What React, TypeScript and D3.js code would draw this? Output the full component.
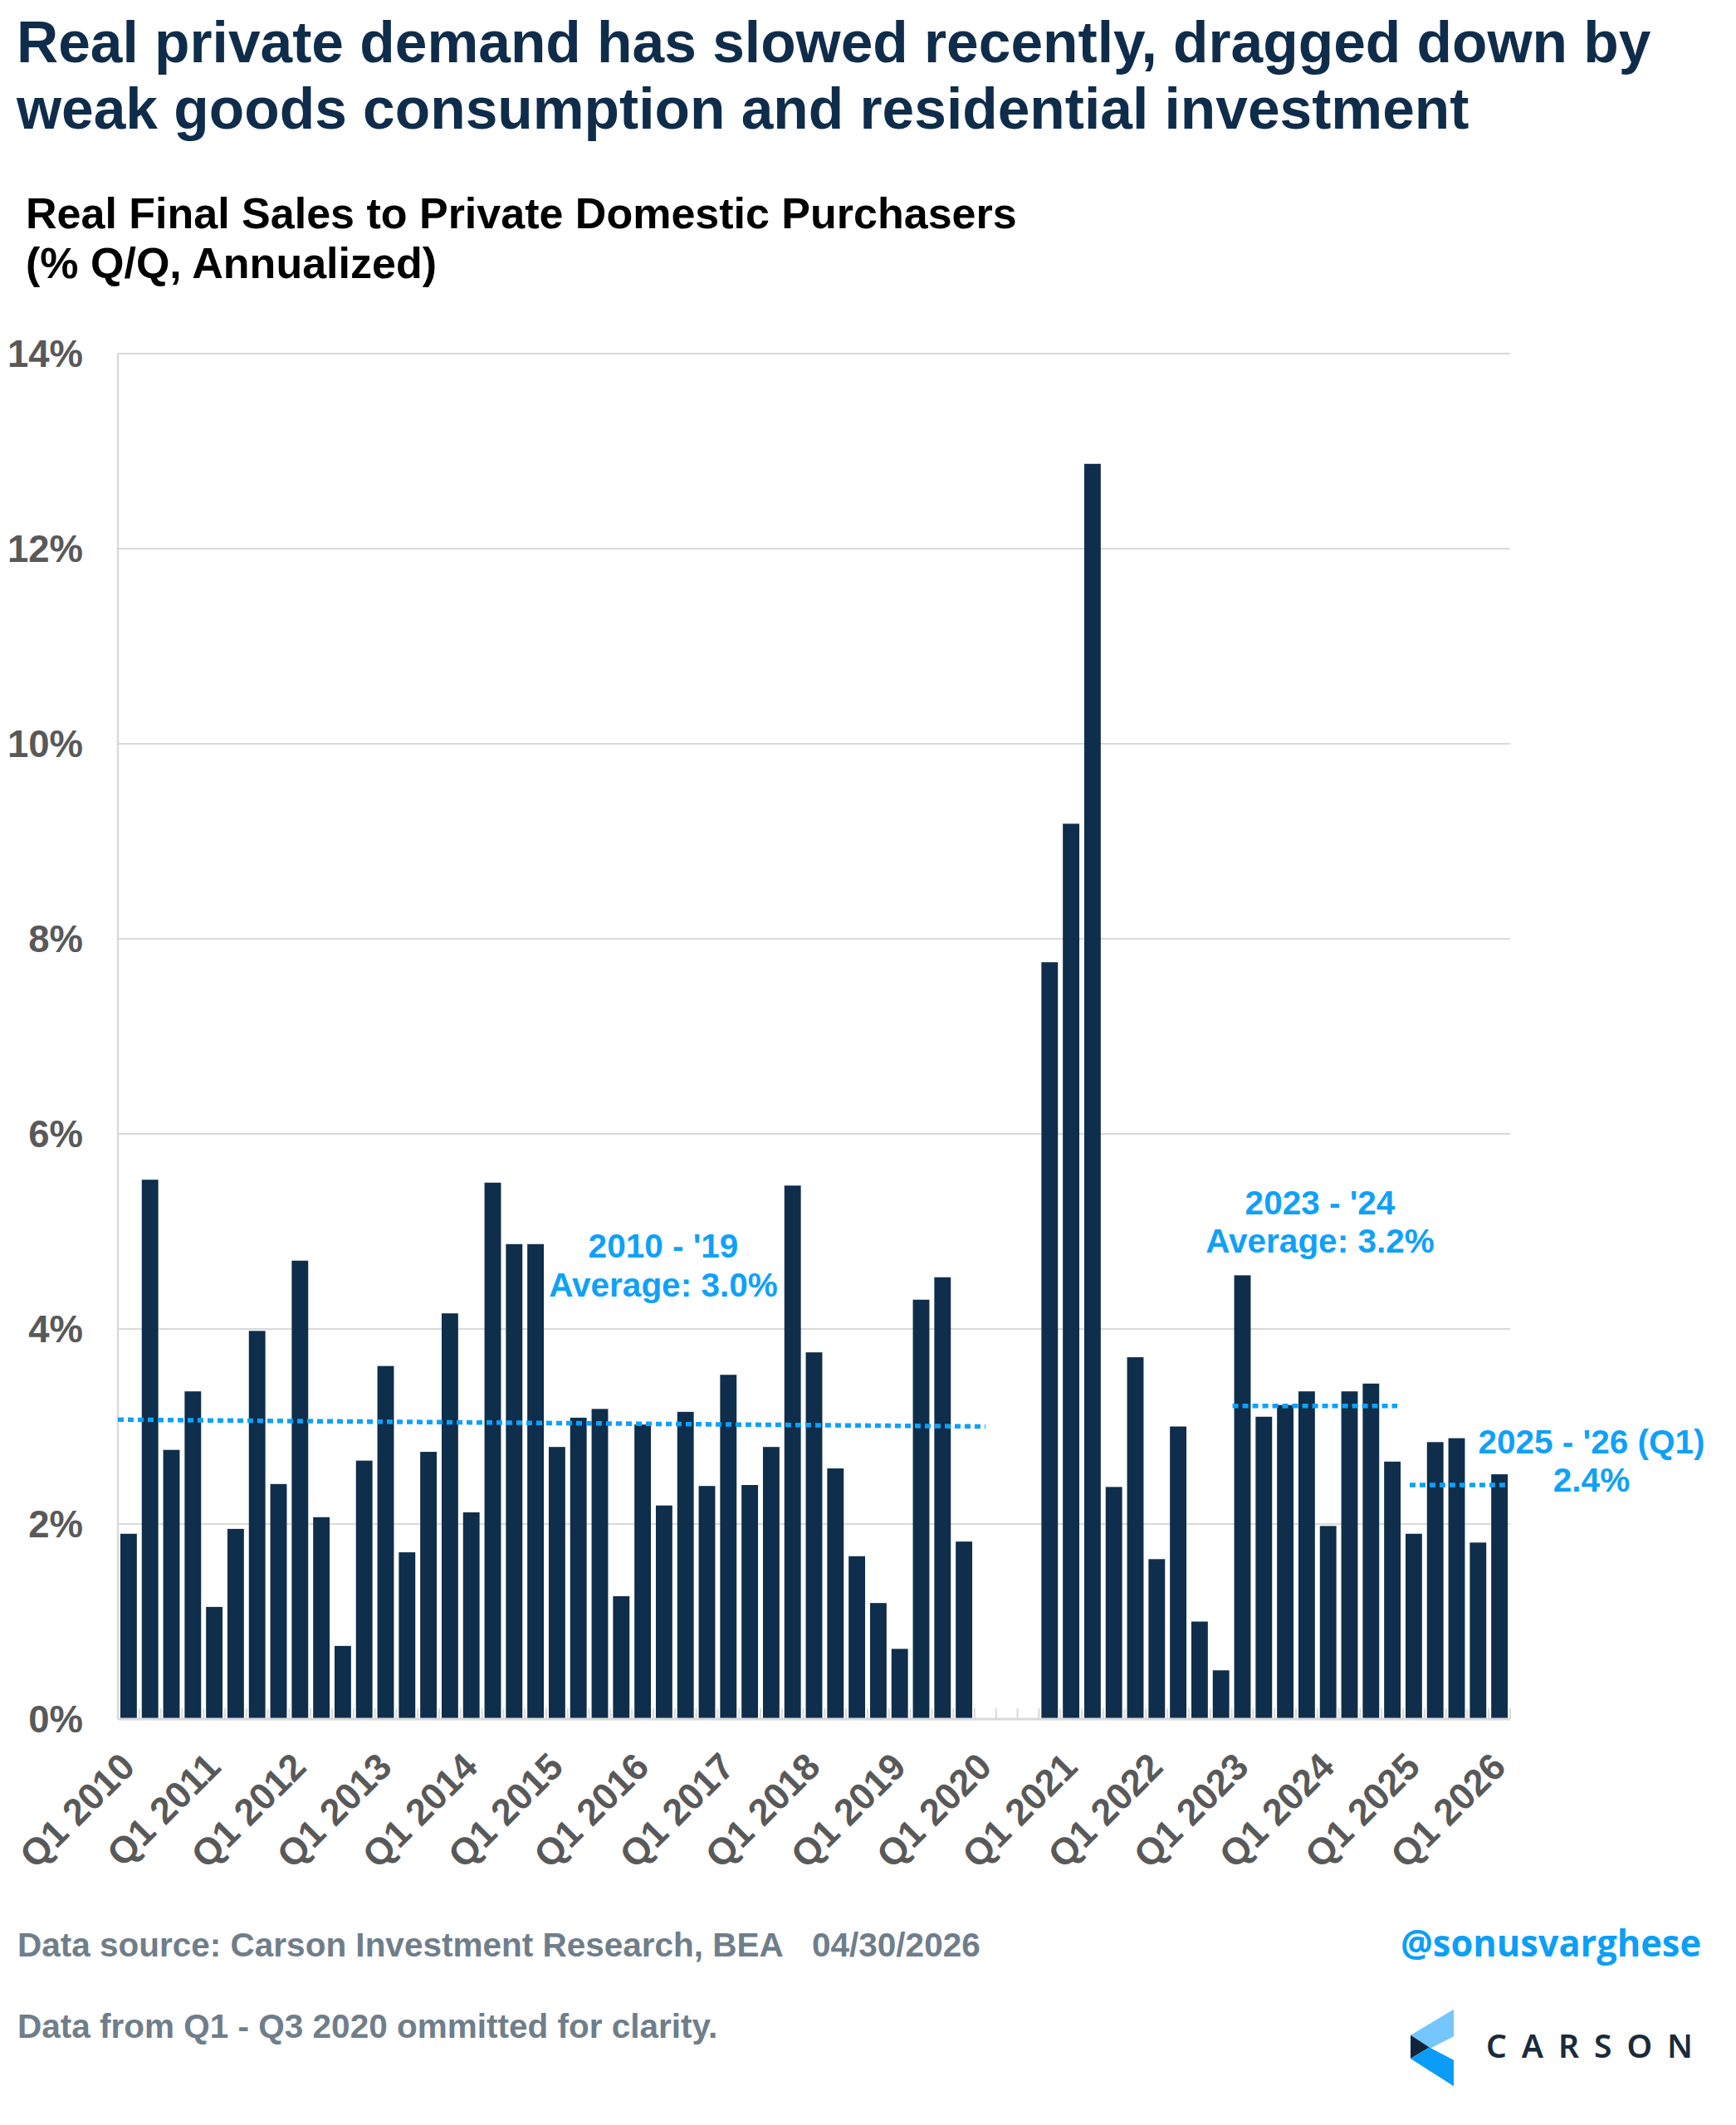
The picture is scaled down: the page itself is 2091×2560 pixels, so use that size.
import React from "react";
import * as d3 from "d3";

// ---------- DATA ----------
const quarters = [
  "Q1 2010", "Q2 2010", "Q3 2010", "Q4 2010",
  "Q1 2011", "Q2 2011", "Q3 2011", "Q4 2011",
  "Q1 2012", "Q2 2012", "Q3 2012", "Q4 2012",
  "Q1 2013", "Q2 2013", "Q3 2013", "Q4 2013",
  "Q1 2014", "Q2 2014", "Q3 2014", "Q4 2014",
  "Q1 2015", "Q2 2015", "Q3 2015", "Q4 2015",
  "Q1 2016", "Q2 2016", "Q3 2016", "Q4 2016",
  "Q1 2017", "Q2 2017", "Q3 2017", "Q4 2017",
  "Q1 2018", "Q2 2018", "Q3 2018", "Q4 2018",
  "Q1 2019", "Q2 2019", "Q3 2019", "Q4 2019",
  "Q1 2020", "Q2 2020", "Q3 2020", "Q4 2020",
  "Q1 2021", "Q2 2021", "Q3 2021", "Q4 2021",
  "Q1 2022", "Q2 2022", "Q3 2022", "Q4 2022",
  "Q1 2023", "Q2 2023", "Q3 2023", "Q4 2023",
  "Q1 2024", "Q2 2024", "Q3 2024", "Q4 2024",
  "Q1 2025", "Q2 2025", "Q3 2025", "Q4 2025",
  "Q1 2026",
];

// % Q/Q annualized; Q1–Q3 2020 omitted (null)
const values: (number | null)[] = [
  1.90, 5.53, 2.76, 3.36,
  1.15, 1.95, 3.98, 2.41,
  4.70, 2.07, 0.75, 2.65,
  3.62, 1.71, 2.74, 4.16,
  2.12, 5.50, 4.87, 4.87,
  2.79, 3.09, 3.18, 1.26,
  3.02, 2.19, 3.15, 2.39,
  3.53, 2.40, 2.79, 5.47,
  3.76, 2.57, 1.67, 1.19,
  0.72, 4.30, 4.53, 1.82,
  null, null, null, 7.76,
  9.18, 12.87, 2.38, 3.71,
  1.64, 3.00, 1.00, 0.50,
  4.55, 3.10, 3.22, 3.36,
  1.98, 3.36, 3.44, 2.64,
  1.90, 2.84, 2.88, 1.81,
  2.51,
];

const yTicks = [0, 2, 4, 6, 8, 10, 12, 14];

// Average reference lines: period (from, to) and values (start, end)
const avgPeriod1 = ["Q1 2010", "Q1 2020"];
const avgValues1 = [3.07, 3.0];
const avgPeriod2 = ["Q1 2023", "Q4 2024"];
const avgValues2 = [3.21, 3.21];
const avgPeriod3 = ["Q1 2025", "Q1 2026"];
const avgValues3 = [2.4, 2.4];

const annot1 = ["2010 - '19", "Average: 3.0%"];
const annot2 = ["2023 - '24", "Average: 3.2%"];
const annot3 = ["2025 - '26 (Q1)", "2.4%"];

const title = [
  "Real private demand has slowed recently, dragged down by",
  "weak goods consumption and residential investment",
];
const subtitle = ["Real Final Sales to Private Domestic Purchasers", "(% Q/Q, Annualized)"];

// ---------- STYLE ----------
const W = 2091;
const H = 2560;
const M = { left: 142, right: 1819, top: 426, bottom: 2071 };
const NAVY = "#0e2e4b";
const BLUE = "#10a1f7";
const GRID = "#d9d9d9";
const AXIS_TXT = "#595959";
const FOOT = "#6f7e8a";
const FONT = "'Liberation Sans', Arial, Helvetica, sans-serif";

export default function App() {
  const x = d3
    .scaleBand<string>()
    .domain(quarters)
    .range([M.left, M.right])
    .paddingInner(0.23)
    .paddingOuter(0.115);
  const y = d3.scaleLinear().domain([0, 14]).range([M.bottom, M.top]);
  const step = x.step();
  const bw = x.bandwidth();
  const cx = (q: string) => (x(q) as number) + bw / 2;

  const boundaries = d3.range(quarters.length + 1).map((i) => M.left + i * step);

  const avgLine = d3
    .line<[number, number]>()
    .x((d) => d[0])
    .y((d) => y(d[1]));

  const line1: [number, number][] = [
    [M.left, avgValues1[0]],
    [cx(avgPeriod1[1]), avgValues1[1]],
  ];
  const line2: [number, number][] = [
    [(x(avgPeriod2[0]) as number) - 2, avgValues2[0]],
    [cx(avgPeriod2[1]) + 6, avgValues2[1]],
  ];
  const line3: [number, number][] = [
    [(x(avgPeriod3[0]) as number) + 5, avgValues3[0]],
    [(x(avgPeriod3[1]) as number) + bw, avgValues3[1]],
  ];

  const dash = { stroke: BLUE, strokeWidth: 5.5, strokeDasharray: "7 5", fill: "none" };

  return (
    <svg
      width={W}
      height={H}
      viewBox={`0 0 ${W} ${H}`}
      style={{ position: "absolute", left: 0, top: 0, background: "#fff" }}
      fontFamily={FONT}
    >
      <rect width={W} height={H} fill="#fff" />

      {/* Title */}
      {title.map((t, i) => (
        <text key={t} x={20} y={75 + i * 80} fontSize={69.5} fontWeight={700} fill="#0f2d4a">
          {t}
        </text>
      ))}
      {subtitle.map((t, i) => (
        <text key={t} x={31} y={275 + i * 60} fontSize={52} fontWeight={700} fill="#000">
          {t}
        </text>
      ))}

      {/* Gridlines */}
      {yTicks.map((t) => (
        <line key={t} x1={M.left} x2={M.right} y1={y(t)} y2={y(t)} stroke={GRID} strokeWidth={2} />
      ))}
      {/* y tick labels */}
      {yTicks.map((t) => (
        <text
          key={"l" + t}
          x={100}
          y={y(t) + 16}
          textAnchor="end"
          fontSize={45.5}
          fontWeight={700}
          fill={AXIS_TXT}
        >
          {t + "%"}
        </text>
      ))}

      {/* Bars */}
      {quarters.map((q, i) =>
        values[i] == null ? null : (
          <rect
            key={q}
            x={x(q)}
            y={y(values[i] as number)}
            width={bw}
            height={y(0) - y(values[i] as number)}
            fill={NAVY}
          />
        )
      )}

      {/* Axes */}
      <line x1={M.left} x2={M.left} y1={M.top} y2={M.bottom} stroke={GRID} strokeWidth={2.5} />
      <line x1={M.left} x2={M.right} y1={M.bottom} y2={M.bottom} stroke={GRID} strokeWidth={3} />
      {boundaries.map((b, i) => (
        <line key={"t" + i} x1={b} x2={b} y1={M.bottom} y2={M.bottom - 13} stroke={GRID} strokeWidth={2} />
      ))}

      {/* x labels */}
      {quarters.map((q, i) =>
        i % 4 === 0 ? (
          <text
            key={"x" + q}
            transform={`translate(${cx(q) + 10},${M.bottom + 60}) rotate(-45)`}
            textAnchor="end"
            fontSize={45}
            fontWeight={700}
            fill={AXIS_TXT}
          >
            {q}
          </text>
        ) : null
      )}

      {/* Average lines */}
      <path d={avgLine(line1) as string} {...dash} />
      <path d={avgLine(line2) as string} {...dash} />
      <path d={avgLine(line3) as string} {...dash} />

      {/* Annotations */}
      {annot1.map((t, i) => (
        <text key={t} x={799} y={1515 + i * 47} textAnchor="middle" fontSize={40.5} fontWeight={700} fill={BLUE}>
          {t}
        </text>
      ))}
      {annot2.map((t, i) => (
        <text key={t} x={1590} y={1463 + i * 46} textAnchor="middle" fontSize={40.5} fontWeight={700} fill={BLUE}>
          {t}
        </text>
      ))}
      {annot3.map((t, i) => (
        <text key={t} x={1917} y={1751 + i * 46} textAnchor="middle" fontSize={40.5} fontWeight={700} fill={BLUE}>
          {t}
        </text>
      ))}

      {/* Footer */}
      <text x={21} y={2357} fontSize={40.5} fontWeight={700} fill={FOOT}>
        Data source: Carson Investment Research, BEA
      </text>
      <text x={978} y={2357} fontSize={40.5} fontWeight={700} fill={FOOT}>
        04/30/2026
      </text>
      <text x={21} y={2455} fontSize={40.5} fontWeight={700} fill={FOOT}>
        Data from Q1 - Q3 2020 ommitted for clarity.
      </text>
      <text
        x={1687}
        y={2357}
        fontSize={45}
        fontWeight={700}
        fill="#0b9ff5"
        fontFamily="'Open Sans', 'Noto Sans', sans-serif"
        textLength={362}
        lengthAdjust="spacingAndGlyphs"
      >
        @sonusvarghese
      </text>

      {/* Carson logo */}
      <g>
        <polygon points="1699,2451.7 1751,2420.7 1751,2453.3 1721.7,2468.3" fill="#74c6fc" />
        <polygon points="1699,2451.7 1721.7,2466.5 1699,2480" fill="#10253d" />
        <polygon points="1699,2480 1721.7,2466.5 1751,2481.7 1751,2513.3" fill="#0a9cf6" />
        <text
          x={1790}
          y={2479}
          fontSize={39}
          fontWeight={600}
          fill="#1b2b3c"
          fontFamily="'Noto Sans', 'Open Sans', sans-serif"
          textLength={249}
          lengthAdjust="spacing"
        >
          CARSON
        </text>
      </g>
    </svg>
  );
}
